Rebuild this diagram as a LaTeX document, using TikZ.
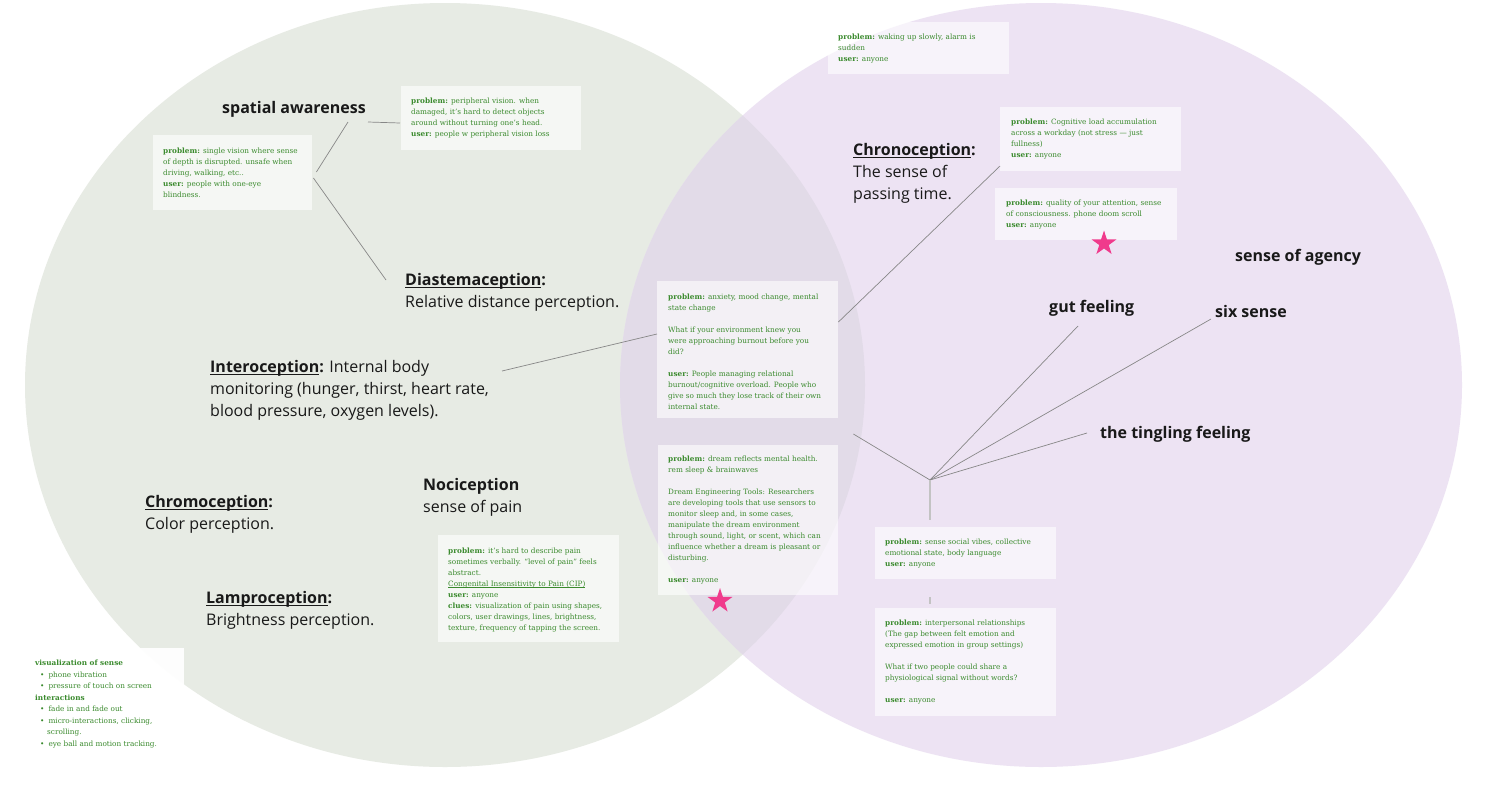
\documentclass[tikz,border=0pt]{standalone}
\usepackage{fontspec}
\setmainfont{Open Sans}
\newfontfamily\boxfont{DejaVu Serif}
\usetikzlibrary{calc,shapes.geometric}
\definecolor{leftc}{RGB}{231,235,228}
\definecolor{rightc}{RGB}{237,227,243}
\definecolor{overc}{RGB}{226,219,232}
\definecolor{greentxt}{RGB}{58,138,45}
\definecolor{linec}{RGB}{135,135,135}
\definecolor{lightline}{RGB}{195,195,195}
\definecolor{starc}{RGB}{240,58,140}
\definecolor{labelc}{RGB}{25,25,25}
\newlength\ulw
\newcommand\ulbig[1]{\settowidth\ulw{#1}\rlap{\rule[-2.8pt]{\ulw}{1.2pt}}#1}
\newcommand\ulsmall[1]{\settowidth\ulw{#1}\rlap{\rule[-1.3pt]{\ulw}{0.45pt}}#1}
\begin{document}
\begin{tikzpicture}[x=1pt,y=-1pt,
  notebox/.style={draw=none, fill=white, fill opacity=0.6, inner sep=0, anchor=north west},
  notetext/.style={text=greentxt, align=left, inner sep=0, anchor=west, font=\boxfont\fontsize{7.3}{11}\selectfont},
  biglabel/.style={text=labelc, align=left, inner sep=0, anchor=north west, font=\fontsize{16}{22}\selectfont},
  boldlabel/.style={text=labelc, inner sep=0, anchor=base west, font=\bfseries\fontsize{16}{22}\selectfont},
  conn/.style={draw=linec, line width=0.7pt},
  stub/.style={draw=lightline, line width=1.3pt},
  pinkstar/.style={star, star points=5, star point ratio=2.6, fill=starc, draw=none, inner sep=0, minimum size=26pt}]
\useasboundingbox (0,0) rectangle (1496,801);
\fill[white] (0,0) rectangle (1496,801);
% circles
\fill[leftc] (445,385) ellipse [x radius=420pt, y radius=382pt];
\fill[rightc] (1041,385) ellipse [x radius=421pt, y radius=382pt];
\begin{scope}
  \clip (445,385) ellipse [x radius=420pt, y radius=382pt];
  \fill[overc] (1041,385) ellipse [x radius=421pt, y radius=382pt];
\end{scope}
% note boxes
\node[notebox, minimum width=159pt, minimum height=75pt] (b1) at (153,135) {};
\node[notetext] (t1) at ($(b1.west)+(10,0)$) {\textbf{problem:} single vision where sense\\of depth is disrupted. unsafe when\\driving, walking, etc..\\\textbf{user:} people with one-eye\\blindness.};
\node[notebox, minimum width=180pt, minimum height=64pt] (b2) at (401,86) {};
\node[notetext] (t2) at ($(b2.west)+(10,0)$) {\textbf{problem:} peripheral vision. when\\damaged, it’s hard to detect objects\\around without turning one’s head.\\\textbf{user:} people w peripheral vision loss};
\node[notebox, minimum width=181pt, minimum height=52pt] (b3) at (828,22) {};
\node[notetext] (t3) at ($(b3.west)+(10,0)$) {\textbf{problem:} waking up slowly, alarm is\\sudden\\\textbf{user:} anyone};
\node[notebox, minimum width=181pt, minimum height=64pt] (b4) at (1000,107) {};
\node[notetext] (t4) at ($(b4.west)+(11,0)$) {\textbf{problem:} Cognitive load accumulation\\across a workday (not stress — just\\fullness)\\\textbf{user:} anyone};
\node[notebox, minimum width=182pt, minimum height=52pt] (b5) at (995,188) {};
\node[notetext] (t5) at ($(b5.west)+(11,0)$) {\textbf{problem:} quality of your attention, sense\\of consciousness. phone doom scroll\\\textbf{user:} anyone};
\node[notebox, minimum width=181pt, minimum height=137pt] (b6) at (657,281) {};
\node[notetext] (t6) at ($(b6.west)+(11,2)$) {\textbf{problem:} anxiety, mood change, mental\\state change\\[11pt]What if your environment knew you\\were approaching burnout before you\\did?\\[11pt]\textbf{user:} People managing relational\\burnout/cognitive overload. People who\\give so much they lose track of their own\\internal state.};
\node[notebox, minimum width=180pt, minimum height=150pt] (b7) at (658,445) {};
\node[notetext] (t7) at ($(b7.west)+(10,0)$) {\textbf{problem:} dream reflects mental health.\\rem sleep \& brainwaves\\[11pt]Dream Engineering Tools: Researchers\\are developing tools that use sensors to\\monitor sleep and, in some cases,\\manipulate the dream environment\\through sound, light, or scent, which can\\influence whether a dream is pleasant or\\disturbing.\\[11pt]\textbf{user:} anyone};
\node[notebox, minimum width=181pt, minimum height=107pt] (b8) at (438,535) {};
\node[notetext] (t8) at ($(b8.west)+(10,1)$) {\textbf{problem:} it’s hard to describe pain\\sometimes verbally. “level of pain” feels\\abstract.\\\ulsmall{Congenital Insensitivity to Pain (CIP)}\\\textbf{user:} anyone\\\textbf{clues:} visualization of pain using shapes,\\colors, user drawings, lines, brightness,\\texture, frequency of tapping the screen.};
\node[notebox, minimum width=181pt, minimum height=52pt] (b9) at (875,527) {};
\node[notetext] (t9) at ($(b9.west)+(10,0)$) {\textbf{problem:} sense social vibes, collective\\emotional state, body language\\\textbf{user:} anyone};
\node[notebox, minimum width=181pt, minimum height=108pt] (b10) at (875,608) {};
\node[notetext] (t10) at ($(b10.west)+(10,0)$) {\textbf{problem:} interpersonal relationships\\(The gap between felt emotion and\\expressed emotion in group settings)\\[11pt]What if two people could share a\\physiological signal without words?\\[11pt]\textbf{user:} anyone};
\node[notebox, fill opacity=0.95, minimum width=159pt, minimum height=110pt] (b11) at (25,648) {};
\node[notetext, anchor=north west, font=\boxfont\fontsize{7.3}{11.5}\selectfont] (t11) at (35,660) {\textbf{visualization of sense}\\\hspace*{5pt}•\hspace{4pt}phone vibration\\\hspace*{5pt}•\hspace{4pt}pressure of touch on screen\\\textbf{interactions}\\\hspace*{5pt}•\hspace{4pt}fade in and fade out\\\hspace*{5pt}•\hspace{4pt}micro-interactions, clicking,\\\hspace*{12pt}scrolling.\\\hspace*{5pt}•\hspace{4pt}eye ball and motion tracking.};
% labels
\node[boldlabel] (sa) at (222,113) {spatial awareness};
\node[biglabel] (dia) at (405,273) {\textbf{\ulbig{Diastemaception}:}\\Relative distance perception.};
\node[biglabel] (intero) at (210,360) {\textbf{\ulbig{Interoception}:} Internal body\\monitoring (hunger, thirst, heart rate,\\blood pressure, oxygen levels).};
\node[biglabel] (chrono) at (853,143) {\textbf{\ulbig{Chronoception}:}\\The sense of\\passing time.};
\node[biglabel] (chromo) at (145,495) {\textbf{\ulbig{Chromoception}:}\\Color perception.};
\node[biglabel] (noci) at (423,478) {\textbf{Nociception}\\sense of pain};
\node[biglabel] (lampro) at (206,591) {\textbf{\ulbig{Lamproception}:}\\Brightness perception.};
\node[boldlabel] (agency) at (1235,261) {sense of agency};
\node[boldlabel] (gut) at (1049,312) {gut feeling};
\node[boldlabel] (six) at (1215,317) {six sense};
\node[boldlabel] (tingle) at (1100,438) {the tingling feeling};
% connectors
\draw[conn] ($(sa.base west)+(126,9)$) -- ($(b1.north east)+(4,37)$);
\draw[conn] ($(sa.base west)+(146,9)$) -- ($(b2.north west)+(-1,37)$);
\draw[conn] ($(b1.north east)+(1,43)$) -- ($(dia.north west)+(-19,7)$);
\draw[conn] ($(intero.north west)+(292,11)$) -- ($(b6.north west)+(0,53)$);
\draw[conn] ($(b4.north west)+(0,59)$) -- ($(b6.north east)+(0,41)$);
\coordinate (hub) at (930,480);
\draw[conn] (hub) -- ($(b6.north east)+(15,153)$);
\draw[conn] (hub) -- ($(gut.base west)+(29,14)$);
\draw[conn] (hub) -- ($(six.base west)+(-4,2)$);
\draw[conn] (hub) -- ($(tingle.base west)+(-13,-5)$);
\draw[stub] (hub) -- ($(b9.north west)+(55,-7)$);
\draw[stub] ($(b9.south west)+(55,18)$) -- ($(b10.north west)+(55,-4)$);
% stars
\node[pinkstar] (star1) at (1104,243.5) {};
\node[pinkstar] (star2) at (720,601) {};
\end{tikzpicture}
\end{document}
